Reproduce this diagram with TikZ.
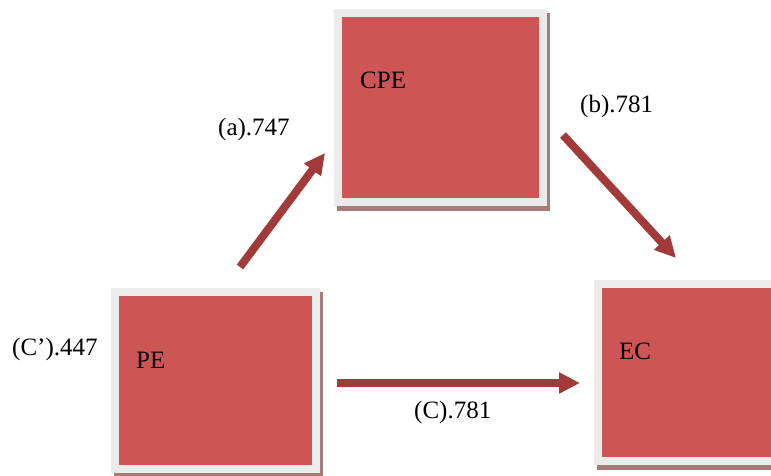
\documentclass[tikz,border=0pt]{standalone}
\usepackage{fontspec}
\setmainfont{Liberation Serif}
\usetikzlibrary{arrows.meta}
\definecolor{boxred}{RGB}{205,85,85}
\definecolor{framegray}{RGB}{235,235,235}
\definecolor{shadowc}{RGB}{168,124,118}
\definecolor{arrowred}{RGB}{163,58,58}
\tikzset{
  box/.style={fill=boxred, draw=framegray, line width=8pt, inner sep=0pt},
  boxlabel/.style={anchor=base west, inner sep=0pt, font=\fontsize{25pt}{30pt}\selectfont},
  coef/.style={anchor=base west, inner sep=0pt, font=\fontsize{25pt}{30pt}\selectfont},
  path arrow/.style={draw=arrowred, line width=8pt,
    -{Triangle[width=20pt,length=21pt]}, shorten >=0pt}
}
\begin{document}
\begin{tikzpicture}[x=1pt,y=-1pt]
\useasboundingbox (0,0) rectangle (771,475);
\clip (0,0) rectangle (771,475);
\fill[white] (0,0) rectangle (771,475);

% shadows under the framed boxes
\fill[shadowc] (337,13) rectangle (550,211);
\fill[shadowc] (114,292) rectangle (323,478);
\fill[shadowc] (597,284) rectangle (803,470);

% framed boxes
\node[box, minimum width=205pt, minimum height=189pt] (cpe) at (440.5,107.5) {};
\node[box, minimum width=201pt, minimum height=177pt] (pe) at (215.5,380.5) {};
\node[box, minimum width=198pt, minimum height=177pt] (ec) at (697,372.5) {};

\node[boxlabel] (cpetext) at (360,88) {CPE};
\node[boxlabel] (petext) at (136,368) {PE};
\node[boxlabel] (ectext) at (619,359) {EC};

% arrow end points
\coordinate (a0) at (240,267);
\coordinate (a1) at (325,153);
\coordinate (b0) at (563,135);
\coordinate (b1) at (676,258);
\coordinate (c0) at (337,383);
\coordinate (c1) at (580,383);

\draw[path arrow] (a0) -- (a1);
\draw[path arrow] (b0) -- (b1);
\draw[path arrow] (c0) -- (c1);

% path coefficients
\node[coef] (la) at (218,135) {(a).747};
\node[coef] (lb) at (580,112) {(b).781};
\node[coef] (lcp) at (12,355) {(C’).447};
\node[coef] (lc) at (414,418) {(C).781};
\end{tikzpicture}
\end{document}
